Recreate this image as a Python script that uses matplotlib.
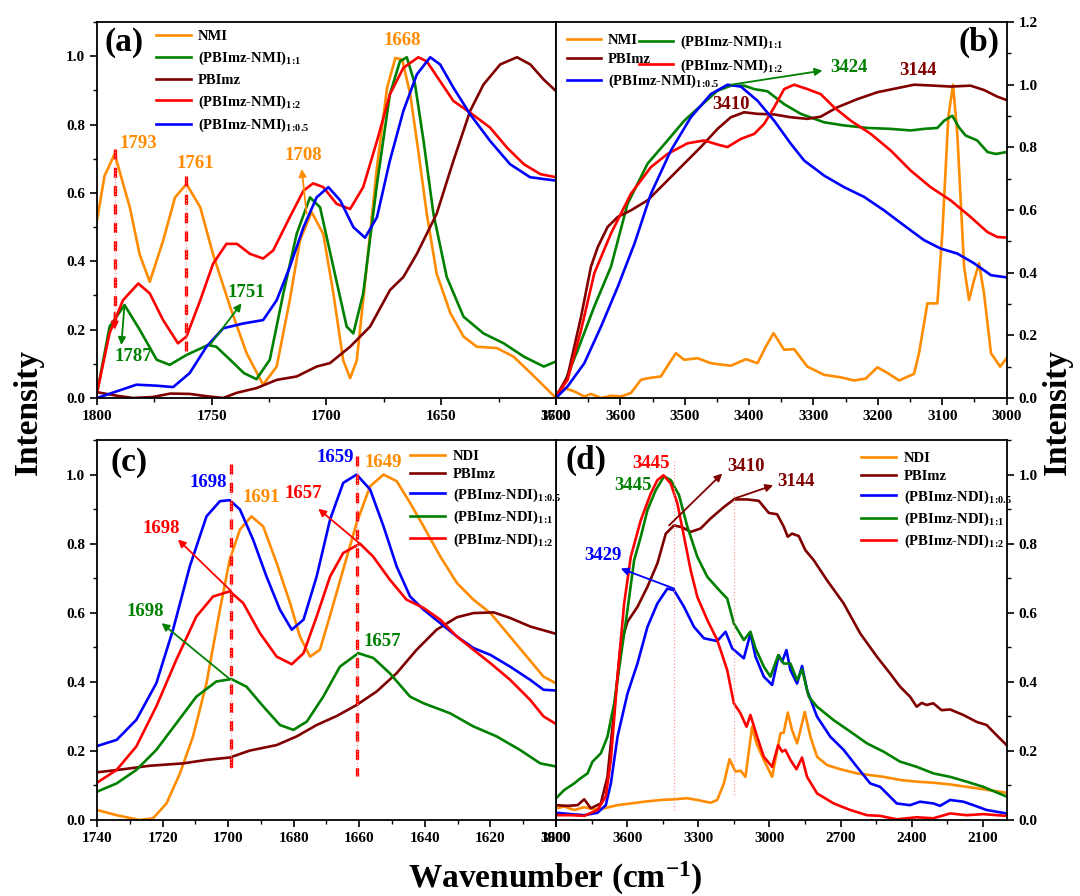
import matplotlib
matplotlib.use('Agg')
import matplotlib.pyplot as plt
from matplotlib.ticker import MultipleLocator

plt.rcParams['font.family'] = 'Liberation Serif'
plt.rcParams['font.weight'] = 'bold'
plt.rcParams['mathtext.fontset'] = 'custom'
plt.rcParams['mathtext.rm'] = 'Liberation Serif:bold'
plt.rcParams['mathtext.bf'] = 'Liberation Serif:bold'
plt.rcParams['mathtext.it'] = 'Liberation Serif:bold'

ORANGE, GREEN, DRED, RED, BLUE = '#ff8c00', '#008000', '#800000', '#ff0000', '#0000ff'

# ---- panel (a): 1800-1600 cm-1, NMI series ----
a_nmi_x = [1800, 1796.7, 1792.3, 1785.7, 1781.4, 1777, 1771.2, 1766, 1761, 1755, 1749.4, 1742, 1734.8,
           1727.6, 1721.7, 1716, 1711.6, 1706.5, 1701.4, 1697, 1692.7, 1689.7, 1686.8, 1682.5, 1678,
           1673.6, 1670, 1667, 1663.5, 1660, 1656.3, 1652, 1646, 1640.3, 1634.5, 1625.7, 1618.5, 1611, 1600]
a_nmi_y = [0.52, 0.65, 0.714, 0.558, 0.42, 0.34, 0.46, 0.587, 0.626, 0.558, 0.42, 0.267, 0.131,
           0.039, 0.092, 0.286, 0.46, 0.544, 0.48, 0.306, 0.11, 0.058, 0.11, 0.383, 0.675,
           0.908, 0.995, 0.99, 0.888, 0.723, 0.539, 0.364, 0.248, 0.18, 0.15, 0.146, 0.121, 0.073, 0.0]
a_g11_x = [1800, 1794.5, 1788, 1781.4, 1774, 1768.3, 1761, 1751.6, 1748, 1742, 1736, 1730.5, 1724.7,
           1718.8, 1713, 1707.2, 1702.8, 1697, 1691.2, 1688.3, 1684, 1678, 1672.4, 1668, 1665, 1661.4,
           1657.7, 1653.4, 1647.6, 1640.3, 1631.6, 1622.8, 1614, 1605.3, 1600]
a_g11_y = [0.014, 0.209, 0.272, 0.2, 0.112, 0.097, 0.126, 0.155, 0.15, 0.112, 0.073, 0.055, 0.112,
           0.306, 0.48, 0.587, 0.558, 0.383, 0.209, 0.189, 0.306, 0.626, 0.888, 0.985, 0.997, 0.917,
           0.752, 0.539, 0.354, 0.238, 0.189, 0.16, 0.121, 0.092, 0.107]
a_pbi_x = [1800, 1791.6, 1784.3, 1775.6, 1768, 1759.6, 1752, 1745, 1739.2, 1730.5, 1721.7, 1713, 1704.3,
           1698.5, 1689.7, 1681, 1672.3, 1666.5, 1660.6, 1652, 1644.7, 1637.4, 1631.6, 1624.3, 1617,
           1611.2, 1605.4, 1600]
a_pbi_y = [0.017, 0.007, 0.0, 0.003, 0.013, 0.012, 0.005, 0.0, 0.015, 0.029, 0.053, 0.063, 0.092,
           0.102, 0.15, 0.209, 0.316, 0.354, 0.422, 0.539, 0.694, 0.84, 0.917, 0.976, 0.997,
           0.976, 0.932, 0.898]
a_r12_x = [1800, 1794.5, 1788.7, 1782, 1777, 1771.2, 1764.7, 1761, 1755, 1749.4, 1743.6, 1739, 1733.4,
           1727.6, 1723.2, 1716, 1710, 1705.8, 1701.4, 1695.6, 1689.7, 1684, 1678, 1672.4, 1666.5,
           1660, 1656.3, 1650.5, 1644.7, 1637.4, 1628.7, 1621.4, 1614, 1606.8, 1600]
a_r12_y = [0.015, 0.19, 0.286, 0.335, 0.306, 0.228, 0.16, 0.18, 0.286, 0.393, 0.451, 0.451, 0.422,
           0.408, 0.432, 0.529, 0.607, 0.628, 0.617, 0.568, 0.553, 0.617, 0.752, 0.888, 0.966,
           0.997, 0.985, 0.927, 0.869, 0.835, 0.791, 0.733, 0.684, 0.655, 0.646]
a_b05_x = [1800, 1791.6, 1782.8, 1774, 1766.8, 1759.6, 1752.3, 1745, 1736.3, 1727.6, 1721.7, 1716, 1710,
           1704.3, 1699.2, 1694, 1688.3, 1683.2, 1678, 1672.4, 1666.5, 1660.6, 1654.8, 1650.5, 1644.7,
           1637.4, 1628.7, 1620, 1611.3, 1600]
a_b05_y = [0.0, 0.019, 0.039, 0.036, 0.032, 0.073, 0.15, 0.204, 0.218, 0.228, 0.286, 0.383, 0.5,
           0.587, 0.617, 0.578, 0.5, 0.469, 0.529, 0.694, 0.84, 0.947, 0.997, 0.976, 0.908,
           0.83, 0.752, 0.684, 0.646, 0.636]

# ---- panel (b): 3700-3000 cm-1, NMI series ----
b_nmi_x = [3700, 3687, 3671.5, 3656, 3645.7, 3630, 3614.6, 3599, 3583.6, 3568, 3558, 3537, 3524, 3513.7,
           3500.8, 3480, 3459.4, 3428.4, 3405, 3387, 3374, 3362, 3345.6, 3330, 3309.4, 3283.5, 3257.6,
           3236.9, 3218.8, 3200.7, 3185, 3167, 3143.8, 3136, 3123, 3107.5, 3099.8, 3090.5, 3083.2,
           3076.5, 3066, 3058.3, 3050.5, 3042.8, 3035, 3024.2, 3010, 3000]
b_nmi_y = [0.005, 0.032, 0.021, 0.005, 0.013, 0.0, 0.007, 0.005, 0.016, 0.058, 0.063, 0.069, 0.111, 0.143,
           0.122, 0.127, 0.111, 0.103, 0.124, 0.111, 0.164, 0.207, 0.154, 0.156, 0.1, 0.074, 0.066,
           0.056, 0.062, 0.098, 0.08, 0.056, 0.077, 0.143, 0.302, 0.302, 0.525, 0.896, 1.0,
           0.843, 0.419, 0.313, 0.376, 0.43, 0.334, 0.143, 0.1, 0.127]
b_g11_x = [3700, 3687, 3666, 3640.5, 3614.6, 3588.8, 3557.7, 3526.7, 3500.8, 3475, 3449, 3428, 3407.7,
           3392, 3371.5, 3345.6, 3319.7, 3283.5, 3252.5, 3216.2, 3180, 3149, 3128.3, 3107.5, 3097,
           3084.3, 3074, 3063.7, 3045.6, 3029.5, 3016.6, 3000]
b_g11_y = [0.0, 0.048, 0.154, 0.292, 0.419, 0.62, 0.748, 0.822, 0.885, 0.933, 0.981, 0.997, 0.997,
           0.986, 0.979, 0.938, 0.907, 0.88, 0.87, 0.862, 0.859, 0.854, 0.859, 0.862, 0.885,
           0.901, 0.864, 0.838, 0.822, 0.785, 0.779, 0.785]
b_pbi_x = [3700, 3682, 3661, 3645.7, 3635, 3619.8, 3604, 3583.6, 3557.7, 3531.8, 3500.8, 3475, 3449,
           3428.4, 3407.7, 3387, 3361, 3335, 3309.4, 3288.8, 3262.8, 3231.7, 3200.7, 3169.7, 3143.8,
           3112.7, 3086.9, 3056, 3035, 3014.5, 3000]
b_pbi_y = [0.005, 0.069, 0.26, 0.419, 0.482, 0.546, 0.578, 0.599, 0.631, 0.684, 0.748, 0.801, 0.859,
           0.896, 0.912, 0.907, 0.905, 0.896, 0.891, 0.898, 0.928, 0.954, 0.976, 0.989, 1.0,
           0.997, 0.994, 0.997, 0.983, 0.962, 0.951]
b_r12_x = [3700, 3682, 3661, 3640.5, 3614.6, 3583.6, 3552.5, 3526.7, 3495.6, 3469.8, 3449, 3433.5,
           3412.8, 3392, 3376.6, 3361, 3345.6, 3330, 3309.4, 3288.8, 3268, 3242, 3211, 3180, 3149,
           3118, 3087, 3056, 3030, 3014.5, 3000]
b_r12_y = [0.005, 0.058, 0.217, 0.398, 0.525, 0.652, 0.737, 0.779, 0.813, 0.822, 0.809, 0.801,
           0.827, 0.843, 0.875, 0.928, 0.986, 1.0, 0.986, 0.97, 0.928, 0.885, 0.843, 0.79, 0.726,
           0.673, 0.631, 0.578, 0.53, 0.514, 0.512]
b_b05_x = [3700, 3682, 3656, 3630, 3604, 3578, 3552.5, 3521.5, 3490.5, 3459.4, 3433.5, 3412.8, 3387,
           3361, 3335, 3314.5, 3283.5, 3252.5, 3221.4, 3190.4, 3159.4, 3128.3, 3102.4, 3076.5,
           3050.5, 3024.3, 3000]
b_b05_y = [0.0, 0.037, 0.111, 0.228, 0.355, 0.493, 0.652, 0.79, 0.896, 0.97, 1.0, 0.994, 0.949,
           0.885, 0.811, 0.758, 0.71, 0.673, 0.642, 0.599, 0.551, 0.504, 0.477, 0.461,
           0.43, 0.392, 0.385]

# ---- panel (c): 1740-1600 cm-1, NDI series ----
c_ndi_x = [1740, 1734, 1727, 1722.9, 1718.8, 1714.7, 1710.7, 1706.6, 1702.5, 1699.5, 1696.4, 1692.9,
           1689.3, 1685.2, 1681.1, 1678.1, 1675, 1672, 1669, 1664.9, 1660.8, 1656.7, 1652.6, 1648.6,
           1644.5, 1640.4, 1635.3, 1630.2, 1625.2, 1620, 1614, 1608.9, 1603.8, 1600]
c_ndi_y = [0.029, 0.014, 0.0, 0.005, 0.048, 0.135, 0.242, 0.396, 0.609, 0.754, 0.841, 0.879,
           0.85, 0.744, 0.628, 0.531, 0.473, 0.493, 0.589, 0.725, 0.86, 0.966, 1.0, 0.981,
           0.918, 0.85, 0.763, 0.686, 0.638, 0.599, 0.531, 0.473, 0.415, 0.396]
c_pbi_x = [1740, 1732, 1724, 1713.7, 1706.6, 1699.5, 1693.4, 1685.2, 1679.1, 1673, 1666.9, 1660.8,
           1654.7, 1648.6, 1642.5, 1636.4, 1630.2, 1625.2, 1619, 1614, 1607.8, 1600]
c_pbi_y = [0.138, 0.147, 0.157, 0.164, 0.174, 0.181, 0.201, 0.217, 0.242, 0.275, 0.301, 0.333,
           0.372, 0.425, 0.493, 0.551, 0.587, 0.599, 0.601, 0.585, 0.56, 0.539]
c_b05_x = [1740, 1734, 1728, 1721.9, 1716.8, 1711.7, 1706.6, 1702.5, 1699.5, 1696.4, 1692.4, 1688.3,
           1684.2, 1680.6, 1677, 1673, 1668.9, 1664.9, 1660.8, 1656.7, 1652.6, 1648.6, 1644.5, 1640.4,
           1635.3, 1630.2, 1625.2, 1620, 1614, 1607.9, 1603.8, 1600]
c_b05_y = [0.214, 0.232, 0.29, 0.396, 0.551, 0.734, 0.879, 0.923, 0.926, 0.899, 0.812, 0.705,
           0.609, 0.551, 0.58, 0.705, 0.87, 0.976, 1.0, 0.957, 0.85, 0.734, 0.647, 0.609,
           0.57, 0.531, 0.498, 0.478, 0.444, 0.406, 0.377, 0.375]
c_g11_x = [1740, 1734, 1728, 1721.9, 1715.8, 1709.7, 1703.6, 1699, 1694.4, 1689.3, 1684.2, 1680.1,
           1676, 1671, 1665.9, 1660.3, 1655.7, 1650.7, 1644.5, 1640.4, 1632.3, 1625.2, 1618.1, 1611,
           1604.8, 1600]
c_g11_y = [0.082, 0.106, 0.145, 0.203, 0.28, 0.357, 0.401, 0.408, 0.386, 0.329, 0.275, 0.261,
           0.285, 0.357, 0.444, 0.483, 0.469, 0.425, 0.357, 0.338, 0.309, 0.271, 0.242, 0.203,
           0.164, 0.155]
c_r12_x = [1740, 1734, 1728, 1721.9, 1715.8, 1709.7, 1704.6, 1699.5, 1695.4, 1690.3, 1685.2, 1680.6,
           1677, 1673, 1668.9, 1664.9, 1659.8, 1655.8, 1650.7, 1645.6, 1640.4, 1635.3, 1630.2, 1625.2,
           1620, 1614, 1607.9, 1603.8, 1600]
c_r12_y = [0.108, 0.145, 0.213, 0.329, 0.464, 0.589, 0.647, 0.662, 0.628, 0.541, 0.473, 0.451,
           0.483, 0.589, 0.705, 0.773, 0.8, 0.763, 0.696, 0.638, 0.614, 0.58, 0.531, 0.493,
           0.454, 0.406, 0.348, 0.3, 0.278]

# ---- panel (d): 3900-2000 cm-1, NDI series ----
d_ndi_x = [3900, 3865, 3823, 3781, 3739, 3697, 3640.6, 3584.5, 3528.4, 3458, 3402, 3346, 3304, 3248,
           3220, 3192, 3168, 3143, 3122, 3101, 3073, 3054.5, 3023.6, 2988.6, 2953.5, 2939.5, 2922.7,
           2904.4, 2883.4, 2869.4, 2851.2, 2827, 2799, 2757, 2701, 2631, 2575, 2519, 2449, 2379,
           2308.5, 2238, 2168, 2098, 2000]
d_ndi_y = [0.034, 0.039, 0.029, 0.037, 0.031, 0.034, 0.043, 0.048, 0.053, 0.058, 0.06, 0.063, 0.058, 0.05,
           0.058, 0.106, 0.176, 0.14, 0.143, 0.125, 0.27, 0.222, 0.174, 0.125, 0.251, 0.253, 0.311,
           0.26, 0.222, 0.26, 0.313, 0.241, 0.183, 0.159, 0.147, 0.135, 0.13, 0.125, 0.116, 0.111,
           0.108, 0.103, 0.096, 0.089, 0.079]
d_pbi_x = [3900, 3851, 3809, 3781, 3753, 3711, 3683, 3654.6, 3626.6, 3598.5, 3556.5, 3514.4, 3472.3,
           3437, 3402, 3367, 3332, 3290, 3248, 3192, 3150, 3094, 3044.7, 3002.6, 2967.5, 2939.5,
           2922.7, 2904.4, 2876.4, 2848.3, 2813, 2757, 2687, 2617, 2547, 2491, 2449, 2407, 2379,
           2358, 2337, 2309, 2274, 2238, 2182, 2126, 2084, 2042.6, 2000]
d_pbi_y = [0.043, 0.041, 0.043, 0.06, 0.034, 0.048, 0.125, 0.318, 0.511, 0.574, 0.617, 0.675, 0.743,
           0.829, 0.853, 0.847, 0.834, 0.844, 0.873, 0.906, 0.928, 0.928, 0.924, 0.889, 0.885, 0.849,
           0.82, 0.829, 0.822, 0.781, 0.752, 0.694, 0.627, 0.54, 0.473, 0.424, 0.386, 0.357, 0.328,
           0.339, 0.333, 0.338, 0.318, 0.32, 0.304, 0.284, 0.275, 0.246, 0.217]
d_b05_x = [3900, 3837, 3781, 3725, 3690, 3668.6, 3640.6, 3598.5, 3556.5, 3514.4, 3472.3, 3430.3, 3402,
           3360, 3318, 3276, 3220, 3185, 3157, 3108, 3080, 3058.7, 3023.6, 2988.6, 2960.5, 2946.5,
           2928.3, 2911.4, 2883.4, 2862.4, 2841.3, 2799, 2743, 2687, 2631, 2575, 2533, 2505, 2463,
           2407, 2365, 2309, 2280.5, 2238, 2182, 2140, 2084, 2000]
d_b05_y = [0.021, 0.017, 0.014, 0.021, 0.043, 0.106, 0.241, 0.366, 0.453, 0.559, 0.627, 0.67, 0.665,
           0.617, 0.559, 0.526, 0.518, 0.545, 0.497, 0.468, 0.54, 0.473, 0.415, 0.391, 0.477, 0.458,
           0.492, 0.434, 0.395, 0.446, 0.376, 0.299, 0.241, 0.203, 0.154, 0.106, 0.096, 0.077, 0.048,
           0.043, 0.053, 0.048, 0.041, 0.058, 0.053, 0.043, 0.029, 0.019]
d_g11_x = [3900, 3865, 3823, 3802, 3767, 3746, 3711, 3683, 3654.6, 3626.6, 3598.5, 3570.5, 3542.4,
           3514.4, 3479.3, 3444.3, 3416, 3381, 3346, 3304, 3262, 3206, 3178, 3150, 3108, 3080,
           3058.7, 3023.6, 2995.6, 2963, 2939.5, 2911.4, 2883.4, 2862.4, 2834, 2799, 2729, 2659,
           2589, 2519, 2449, 2379, 2308.5, 2238, 2168, 2098, 2000]
d_g11_y = [0.063, 0.087, 0.106, 0.118, 0.135, 0.169, 0.193, 0.241, 0.338, 0.473, 0.608, 0.752, 0.82,
           0.897, 0.955, 0.995, 0.984, 0.94, 0.849, 0.762, 0.704, 0.661, 0.641, 0.569, 0.521, 0.545,
           0.497, 0.444, 0.415, 0.477, 0.453, 0.453, 0.405, 0.436, 0.357, 0.328, 0.289, 0.256,
           0.222, 0.198, 0.169, 0.154, 0.135, 0.125, 0.111, 0.096, 0.068]
d_r12_x = [3900, 3837, 3781, 3725, 3690, 3668.6, 3640.6, 3612.5, 3584.5, 3542.4, 3500.4, 3472.3, 3447,
           3416, 3388, 3360, 3332, 3304, 3262, 3220, 3178, 3150, 3122, 3096.5, 3080, 3051.7, 3023.6,
           2988.6, 2963, 2946.5, 2932.5, 2911.4, 2886, 2862.4, 2841.3, 2799, 2729, 2659, 2589, 2533,
           2463, 2379, 2309, 2238, 2168, 2098, 2000]
d_r12_y = [0.014, 0.014, 0.012, 0.029, 0.068, 0.174, 0.415, 0.627, 0.762, 0.868, 0.945, 0.984, 0.998,
           0.974, 0.916, 0.82, 0.723, 0.646, 0.579, 0.521, 0.434, 0.338, 0.309, 0.27, 0.304, 0.241, 0.183,
           0.154, 0.217, 0.198, 0.203, 0.174, 0.147, 0.181, 0.125, 0.077, 0.048, 0.029, 0.014, 0.012,
           0.002, 0.008, 0.005, 0.019, 0.014, 0.017, 0.012]

nmi_labels = ['NMI', r'(PBImz-NMI)$_{1\!:\!1}$', 'PBImz', r'(PBImz-NMI)$_{1\!:\!2}$',
              r'(PBImz-NMI)$_{1\!:\!0.5}$']
ndi_labels = ['NDI', 'PBImz', r'(PBImz-NDI)$_{1\!:\!0.5}$', r'(PBImz-NDI)$_{1\!:\!1}$',
              r'(PBImz-NDI)$_{1\!:\!2}$']

fig = plt.figure(figsize=(10.8, 8.96), dpi=100)
L, M, R = 0.0898, 0.5148, 0.932
ax_a = fig.add_axes([L, 0.5558, M - L, 0.4196])
ax_b = fig.add_axes([M, 0.5558, R - M, 0.4196])
ax_c = fig.add_axes([L, 0.0848, M - L, 0.4241])
ax_d = fig.add_axes([M, 0.0848, R - M, 0.4241])
ax_c.set_zorder(2)

LW = 1.9
TFS = 11
AFS = 13.5
LEG = dict(frameon=False, fontsize=10.5, handlelength=2.4, handletextpad=0.5, borderaxespad=0)


def style(ax, xmaj, xmin, ymaj, ymin, side):
    ax.xaxis.set_major_locator(MultipleLocator(xmaj))
    ax.xaxis.set_minor_locator(MultipleLocator(xmin))
    ax.yaxis.set_major_locator(MultipleLocator(ymaj))
    ax.yaxis.set_minor_locator(MultipleLocator(ymin))
    ax.tick_params(which='both', direction='out', labelsize=TFS, top=False,
                   left=(side == 'left'), right=(side == 'right'),
                   labelleft=(side == 'left'), labelright=(side == 'right'))
    ax.tick_params(which='major', length=5, width=1.2)
    ax.tick_params(which='minor', length=3, width=1.0)
    for s in ax.spines.values():
        s.set_linewidth(1.3)
    for lab in ax.get_xticklabels() + ax.get_yticklabels():
        lab.set_fontweight('bold')


def arrow(ax, tail, tip, color):
    ax.annotate('', xy=tip, xytext=tail,
                arrowprops=dict(arrowstyle='-|>', color=color, lw=1.3, mutation_scale=11,
                                shrinkA=0, shrinkB=0))


def vdash(ax, x, y0, y1):
    ax.plot([x, x], [y0, y1], color=RED, lw=2.4, ls=(0, (3, 2.5)))
    ax.plot([x, x], [y0, y1], color='#ff9999', lw=0.8, ls=':')


# (a)
ax = ax_a
ax.plot(a_nmi_x, a_nmi_y, color=ORANGE, lw=LW, label=nmi_labels[0])
ax.plot(a_g11_x, a_g11_y, color=GREEN, lw=LW, label=nmi_labels[1])
ax.plot(a_pbi_x, a_pbi_y, color=DRED, lw=LW, label=nmi_labels[2])
ax.plot(a_r12_x, a_r12_y, color=RED, lw=LW, label=nmi_labels[3])
ax.plot(a_b05_x, a_b05_y, color=BLUE, lw=LW, label=nmi_labels[4])
ax.set_xlim(1800, 1600)
ax.set_ylim(0, 1.1)
style(ax, 50, 25, 0.2, 0.1, 'left')
vdash(ax, 1792.3, 0.73, 0.2)
vdash(ax, 1761, 0.65, 0.125)
arrow(ax, (1792.3, 0.25), (1792.3, 0.2), RED)
ax.text(1782, 0.745, '1793', color=ORANGE, fontsize=AFS, ha='center', va='center')
ax.text(1757, 0.685, '1761', color=ORANGE, fontsize=AFS, ha='center', va='center')
ax.text(1710, 0.71, '1708', color=ORANGE, fontsize=AFS, ha='center', va='center')
ax.text(1667, 1.045, '1668', color=ORANGE, fontsize=AFS, ha='center', va='center')
ax.text(1735, 0.31, '1751', color=GREEN, fontsize=AFS, ha='center', va='center')
ax.text(1784, 0.12, '1787', color=GREEN, fontsize=AFS, ha='center', va='center')
arrow(ax, (1708.7, 0.54), (1710.8, 0.67), ORANGE)
arrow(ax, (1750.8, 0.155), (1737, 0.277), GREEN)
arrow(ax, (1788, 0.272), (1789.4, 0.155), GREEN)
ax.text(0.016, 0.945, '(a)', transform=ax.transAxes, fontsize=24, ha='left', va='center')
ax.legend(loc='upper left', bbox_to_anchor=(0.115, 0.995), labelspacing=0.45, **LEG)

# (b)
ax = ax_b
hb = []
hb += ax.plot(b_nmi_x, b_nmi_y, color=ORANGE, lw=LW)
hb += ax.plot(b_g11_x, b_g11_y, color=GREEN, lw=LW)
hb += ax.plot(b_pbi_x, b_pbi_y, color=DRED, lw=LW)
hb += ax.plot(b_r12_x, b_r12_y, color=RED, lw=LW)
hb += ax.plot(b_b05_x, b_b05_y, color=BLUE, lw=LW)
ax.set_xlim(3700, 3000)
ax.set_ylim(0, 1.2)
style(ax, 100, 50, 0.2, 0.1, 'right')
ax.text(3245, 1.055, '3424', color=GREEN, fontsize=AFS, ha='center', va='center')
ax.text(3138, 1.045, '3144', color=DRED, fontsize=AFS, ha='center', va='center')
ax.text(3428, 0.936, '3410', color=DRED, fontsize=AFS, ha='center', va='center')
arrow(ax, (3428, 1.0), (3286, 1.045), GREEN)
ax.text(0.985, 0.945, '(b)', transform=ax.transAxes, fontsize=24, ha='right', va='center')
leg1 = ax.legend([hb[0], hb[2], hb[4]], [nmi_labels[0], nmi_labels[2], nmi_labels[4]],
                 loc='upper left', bbox_to_anchor=(0.012, 0.985), labelspacing=0.45,
                 **dict(LEG, handlelength=2.3))
ax.add_artist(leg1)
ax.legend([hb[1], hb[3]], [nmi_labels[1], nmi_labels[3]],
          loc='upper left', bbox_to_anchor=(0.172, 0.985), labelspacing=0.45,
          **dict(LEG, handlelength=2.3))

# (c)
ax = ax_c
ax.plot(c_ndi_x, c_ndi_y, color=ORANGE, lw=LW, label=ndi_labels[0])
ax.plot(c_pbi_x, c_pbi_y, color=DRED, lw=LW, label=ndi_labels[1])
ax.plot(c_b05_x, c_b05_y, color=BLUE, lw=LW, label=ndi_labels[2])
ax.plot(c_g11_x, c_g11_y, color=GREEN, lw=LW, label=ndi_labels[3])
ax.plot(c_r12_x, c_r12_y, color=RED, lw=LW, label=ndi_labels[4])
ax.set_xlim(1740, 1600)
ax.set_ylim(0, 1.1)
style(ax, 20, 10, 0.2, 0.1, 'left')
vdash(ax, 1699, 1.03, 0.147)
vdash(ax, 1660.8, 1.053, 0.126)
ax.text(1706, 0.976, '1698', color=BLUE, fontsize=AFS, ha='center', va='center')
ax.text(1689.8, 0.935, '1691', color=ORANGE, fontsize=AFS, ha='center', va='center')
ax.text(1677, 0.945, '1657', color=RED, fontsize=AFS, ha='center', va='center')
ax.text(1667.4, 1.048, '1659', color=BLUE, fontsize=AFS, ha='center', va='center')
ax.text(1652.6, 1.034, '1649', color=ORANGE, fontsize=AFS, ha='center', va='center')
ax.text(1720.3, 0.845, '1698', color=RED, fontsize=AFS, ha='center', va='center')
ax.text(1725.4, 0.604, '1698', color=GREEN, fontsize=AFS, ha='center', va='center')
ax.text(1653, 0.517, '1657', color=GREEN, fontsize=AFS, ha='center', va='center')
arrow(ax, (1699, 0.662), (1715.3, 0.812), RED)
arrow(ax, (1659.8, 0.8), (1672.5, 0.901), RED)
arrow(ax, (1699.5, 0.408), (1720.3, 0.57), GREEN)
ax.text(0.03, 0.94, '(c)', transform=ax.transAxes, fontsize=24, ha='left', va='center')
ax.legend(loc='upper left', bbox_to_anchor=(0.67, 0.99), labelspacing=0.35, **LEG)

# (d)
ax = ax_d
ax.plot(d_ndi_x, d_ndi_y, color=ORANGE, lw=LW, label=ndi_labels[0])
ax.plot(d_pbi_x, d_pbi_y, color=DRED, lw=LW, label=ndi_labels[1])
ax.plot(d_b05_x, d_b05_y, color=BLUE, lw=LW, label=ndi_labels[2])
ax.plot(d_g11_x, d_g11_y, color=GREEN, lw=LW, label=ndi_labels[3])
ax.plot(d_r12_x, d_r12_y, color=RED, lw=LW, label=ndi_labels[4])
ax.set_xlim(3900, 2000)
ax.set_ylim(0, 1.1)
style(ax, 300, 150, 0.2, 0.1, 'right')
ax.plot([3402, 3402], [1.04, 0.03], color='#ff9999', lw=0.9, ls=':')
ax.plot([3150, 3150], [0.95, 0.07], color='#ff9999', lw=0.9, ls=':')
ax.text(3500, 1.032, '3445', color=RED, fontsize=AFS, ha='center', va='center')
ax.text(3577, 0.969, '3445', color=GREEN, fontsize=AFS, ha='center', va='center')
ax.text(3100, 1.022, '3410', color=DRED, fontsize=AFS, ha='center', va='center')
ax.text(2890, 0.979, '3144', color=DRED, fontsize=AFS, ha='center', va='center')
ax.text(3704, 0.767, '3429', color=BLUE, fontsize=AFS, ha='center', va='center')
arrow(ax, (3423, 0.853), (3199, 1.003), DRED)
arrow(ax, (3150, 0.93), (2984, 0.969), DRED)
arrow(ax, (3402, 0.67), (3627, 0.728), BLUE)
ax.text(0.022, 0.947, '(d)', transform=ax.transAxes, fontsize=24, ha='left', va='center')
ax.legend(loc='upper left', bbox_to_anchor=(0.665, 0.985), labelspacing=0.35, **LEG)

fig.text(0.026, 0.54, 'Intensity', rotation=90, fontsize=24, ha='center', va='center')
fig.text(0.979, 0.54, 'Intensity', rotation=90, fontsize=24, ha='center', va='center')
fig.text(0.514, 0.02, r'Wavenumber (cm$^{-1}$)', fontsize=24, ha='center', va='center')

fig.savefig('out.png', dpi=100)
